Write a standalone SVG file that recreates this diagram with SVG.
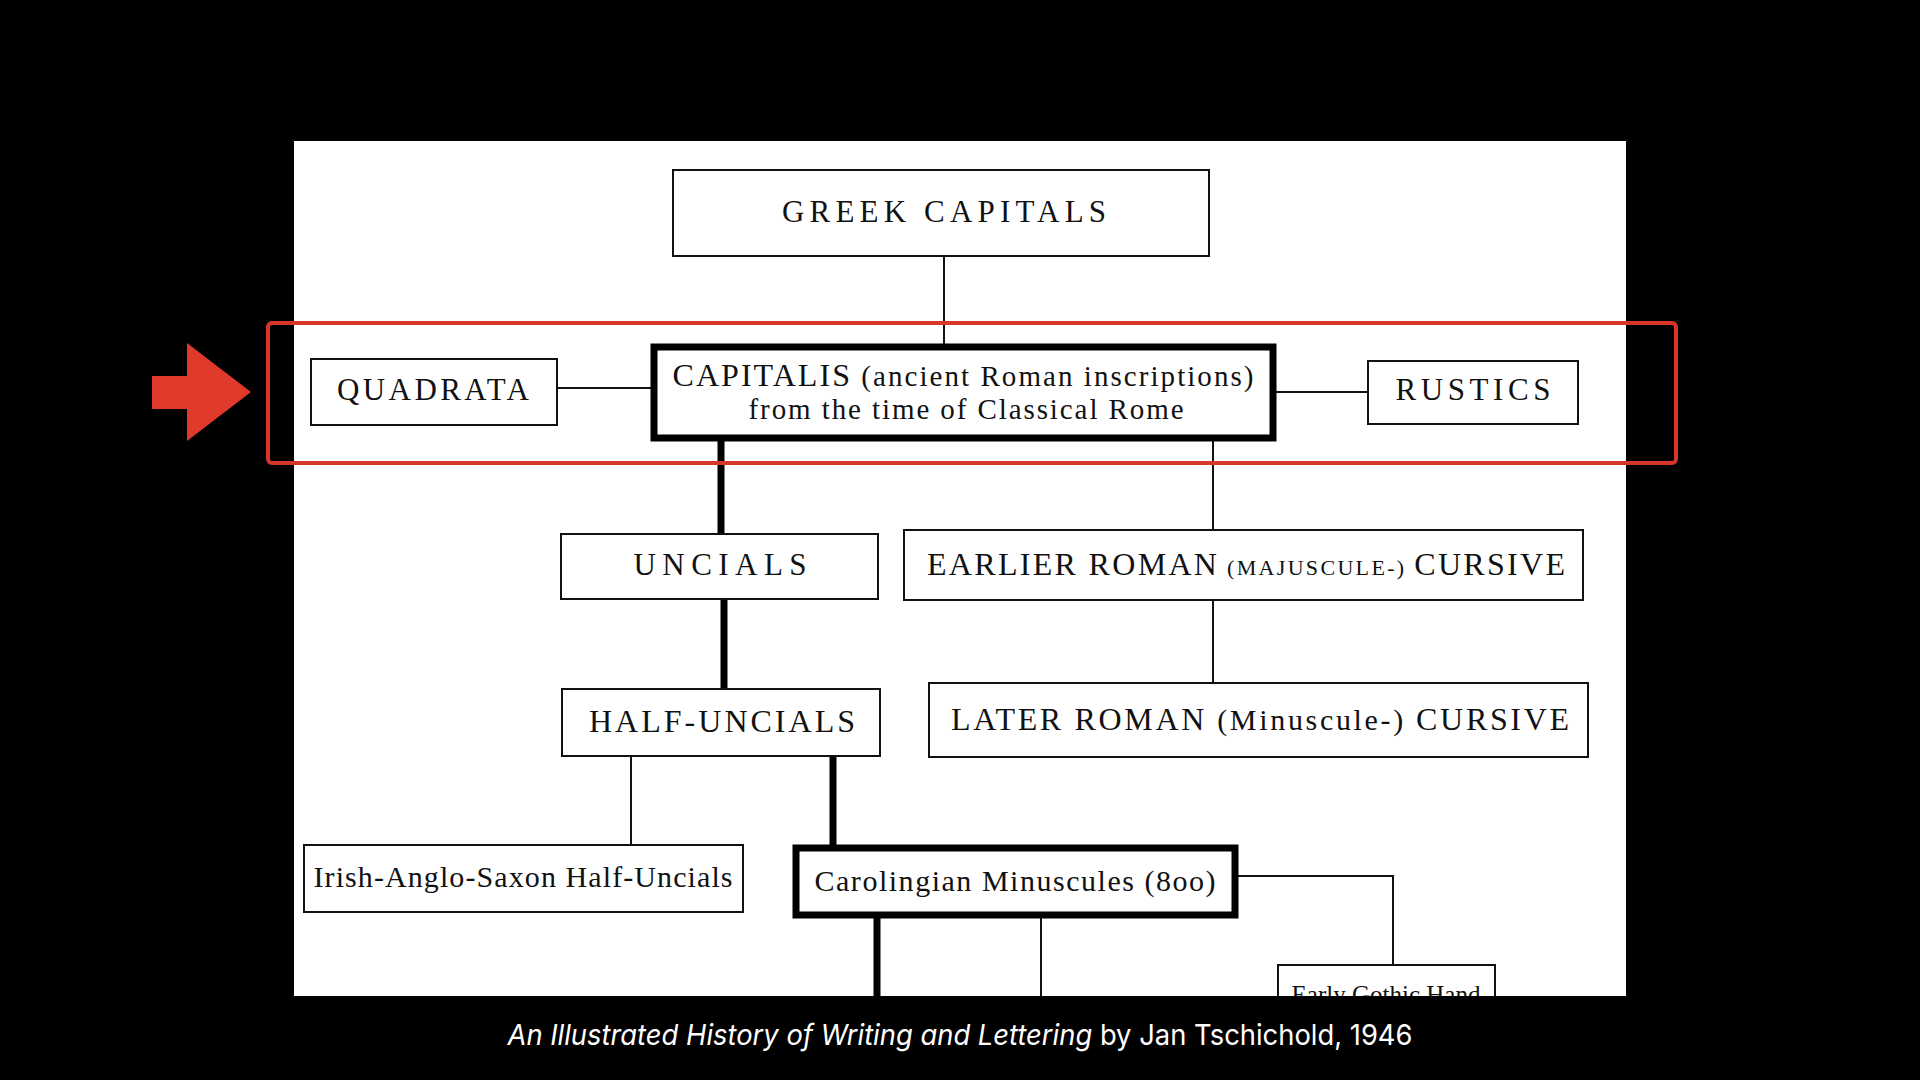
<svg xmlns="http://www.w3.org/2000/svg" width="1920" height="1080" viewBox="0 0 1920 1080">
<style>
.b{fill:#fff;stroke:#111;stroke-width:2}
.tb{fill:#fff;stroke:#000;stroke-width:7}
.l{stroke:#111;stroke-width:2;fill:none}
.tl{stroke:#000;stroke-width:7;fill:none}
text{font-family:"Liberation Serif","DejaVu Serif",serif;fill:#111;text-anchor:middle}
.c{font-size:31px}
</style>
<defs><clipPath id="p"><rect x="294" y="141" width="1332" height="855"/></clipPath></defs>
<rect width="1920" height="1080" fill="#000"/>
<rect x="294" y="141" width="1332" height="855" fill="#fff"/>
<g clip-path="url(#p)">
<g id="connectors">
<path class="l" d="M944 256V344M557 388H651M1276 392H1368M1213 441V530M1213 600V683M631 756V845M1238 876H1393V965M1041 918V996"/>
<path class="tl" d="M721 441V534M724 599V689M833 756V845M877 918V996"/>
</g>
<g id="greek"><rect class="b" x="673" y="170" width="536" height="86"/><text class="c" x="944" y="222" textLength="324" lengthAdjust="spacing">GREEK CAPITALS</text></g>
<g id="capitalis"><rect class="tb" x="654" y="347" width="619" height="91"/>
<text x="963" y="386" textLength="581" lengthAdjust="spacing"><tspan font-size="32">CAPITALIS</tspan><tspan font-size="29"> (ancient Roman inscriptions)</tspan></text>
<text x="966" y="419" font-size="29" textLength="435" lengthAdjust="spacing">from the time of Classical Rome</text></g>
<g id="quadrata"><rect class="b" x="311" y="359" width="246" height="66"/><text class="c" x="433" y="400" textLength="192" lengthAdjust="spacing">QUADRATA</text></g>
<g id="rustics"><rect class="b" x="1368" y="361" width="210" height="63"/><text class="c" x="1473" y="400" textLength="155" lengthAdjust="spacing">RUSTICS</text></g>
<g id="uncials"><rect class="b" x="561" y="534" width="317" height="65"/><text class="c" x="720" y="575" textLength="173" lengthAdjust="spacing">UNCIALS</text></g>
<g id="earlier"><rect class="b" x="904" y="530" width="679" height="70"/><text x="1246" y="575" textLength="638" lengthAdjust="spacing"><tspan font-size="32">EARLIER ROMAN</tspan><tspan font-size="22"> (MAJUSCULE-) </tspan><tspan font-size="32">CURSIVE</tspan></text></g>
<g id="halfuncials"><rect class="b" x="562" y="689" width="318" height="67"/><text x="722" y="732" font-size="32" textLength="266" lengthAdjust="spacing">HALF-UNCIALS</text></g>
<g id="later"><rect class="b" x="929" y="683" width="659" height="74"/><text x="1260" y="730" textLength="618" lengthAdjust="spacing"><tspan font-size="32">LATER ROMAN</tspan><tspan font-size="30"> (Minuscule-) </tspan><tspan font-size="32">CURSIVE</tspan></text></g>
<g id="irish"><rect class="b" x="304" y="845" width="439" height="67"/><text x="523" y="887" font-size="30" textLength="419" lengthAdjust="spacing">Irish-Anglo-Saxon Half-Uncials</text></g>
<g id="carolingian"><rect class="tb" x="796" y="848" width="439" height="67"/><text x="1015" y="891" font-size="30" textLength="401" lengthAdjust="spacing">Carolingian Minuscules (8oo)</text></g>
<g id="gothic"><rect class="b" x="1278" y="965" width="217" height="60"/><text x="1386" y="1003" font-size="25">Early Gothic Hand</text></g>
</g>
<rect x="268" y="323" width="1408" height="140" rx="4" fill="none" stroke="#d8362a" stroke-width="4"/>
<path d="M152 376H187V343L251 392L187 441V409H152Z" fill="#e03a2a"/>
<text x="960" y="1045" style="font-family:Inter,'Noto Sans',sans-serif;font-size:29px;fill:#fff" textLength="905" lengthAdjust="spacingAndGlyphs"><tspan font-style="italic">An Illustrated History of Writing and Lettering</tspan> by Jan Tschichold, 1946</text>
</svg>
